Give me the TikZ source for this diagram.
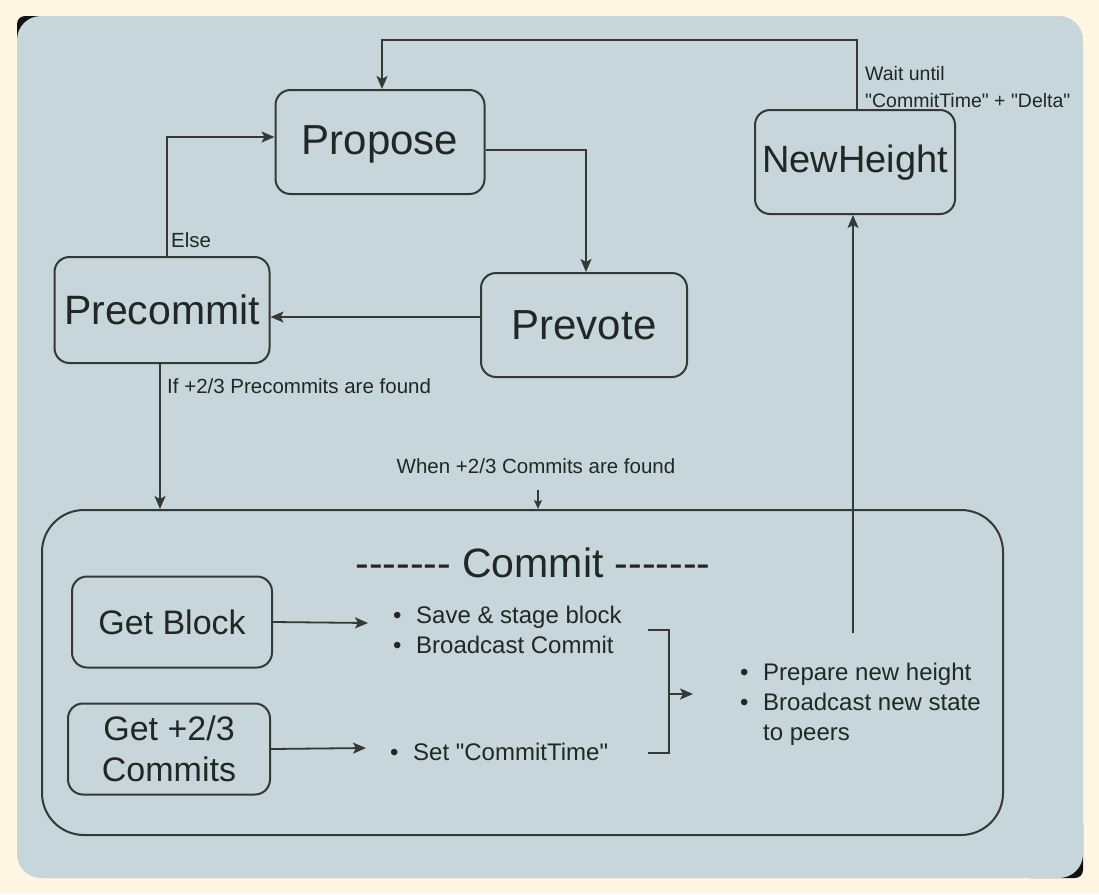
\documentclass[tikz,border=0pt]{standalone}
\usepackage{fontspec}
\newfontfamily\lib{Liberation Sans}
\usetikzlibrary{arrows.meta}
\definecolor{cream}{RGB}{255,246,226}
\definecolor{slide}{RGB}{198,214,218}
\definecolor{ink}{RGB}{52,56,58}
\definecolor{txt}{RGB}{34,38,40}
\definecolor{edgedark}{RGB}{18,18,18}
\newcommand\bul{\makebox[23pt][l]{•}}
\newcommand\hy{\mbox{-}}
\newcommand\fsize[1]{\lib\fontsize{#1}{#1}\selectfont}
\begin{document}
\begin{tikzpicture}[x=1pt,y=-1pt,
  statebox/.style={draw=ink, line width=2pt, rounded corners=15pt, inner sep=0pt, text=txt},
  lbl/.style={text=txt, inner sep=0pt, font=\lib\fontsize{20.5}{27}\selectfont},
  bullets/.style={text=txt, inner sep=0pt, align=left, font=\lib\fontsize{24}{30}\selectfont},
  conn/.style={draw=ink, line width=1.8pt},
  arr/.style={conn, -{Stealth[length=13pt,width=11pt,inset=3pt]}},
  smallarr/.style={conn, -{Stealth[length=9pt,width=8pt,inset=2pt]}}
]
\useasboundingbox (0,0) rectangle (1099,894);
\fill[cream] (0,0) rectangle (1099,894);
\begin{scope}
  \clip (17,16) rectangle (70,70);
  \fill[edgedark, rounded corners=8pt] (17,16) rectangle (1083,878);
\end{scope}
\begin{scope}
  \clip (1030,825) rectangle (1083,878);
  \fill[edgedark, rounded corners=8pt] (17,16) rectangle (1083,878);
\end{scope}
\fill[slide, rounded corners=24pt] (17,16) rectangle (1083,878);

% state nodes
\node[statebox, minimum width=209pt, minimum height=104pt, font=\fsize{42}, text depth=4pt] (propose) at (380,142) {Propose};
\node[statebox, minimum width=200pt, minimum height=104pt, font=\fsize{38}, text depth=6pt] (newh) at (855,162) {NewHeight};
\node[statebox, minimum width=215pt, minimum height=106pt, font=\fsize{41}] (precommit) at (162,310) {Precommit};
\node[statebox, minimum width=206pt, minimum height=104pt, font=\fsize{42}] (prevote) at (584,325) {Prevote};

% commit group
\node[draw=ink, line width=2pt, rounded corners=42pt, minimum width=961pt, minimum height=325pt, inner sep=0pt] (commit) at (522.5,672.5) {};
\node[text=txt, inner sep=0pt, font=\fsize{41}] (ctitle) at (533,563) {\hy\hy\hy\hy\hy\hy\hy{} Commit \hy\hy\hy\hy\hy\hy\hy};
\node[statebox, minimum width=200pt, minimum height=91pt, font=\fsize{34}] (getblock) at (172,622) {Get Block};
\node[statebox, minimum width=202pt, minimum height=91pt, align=center, font=\lib\fontsize{34}{41}\selectfont] (getcommits) at (169,749) {Get +2/3\\Commits};

\node[bullets, anchor=west] (savetext) at (393,630) {\bul Save \& stage block\\\bul Broadcast Commit};
\node[bullets, anchor=west] (settext) at (390,752) {\bul Set "CommitTime"};
\node[bullets, anchor=west] (preptext) at (740,704) {\bul Prepare new height\\\bul Broadcast new state\\\hspace*{23pt}to peers};

% labels
\node[lbl, anchor=west] (elselbl) at (171,240) {Else};
\node[lbl, anchor=west] (iflbl) at (167,386) {If +2/3 Precommits are found};
\node[lbl] (whenlbl) at (536,466) {When +2/3 Commits are found};
\node[lbl, anchor=west, align=left, font=\lib\fontsize{19.5}{27}\selectfont] (waitlbl) at (865,87) {Wait until\\"CommitTime" + "Delta"};

% coordinates
\coordinate (loopR) at (857,40);
\coordinate (loopL) at (382,40);
\coordinate (pp) at (586,150);
\coordinate (pv) at (0,317);
\coordinate (el) at (167,137);
\coordinate (pc) at (160,0);
\coordinate (w1) at (538,490);
\coordinate (gbend) at (368,623);
\coordinate (gcend) at (366,748);
\coordinate (b1) at (648,630);
\coordinate (b2) at (669,630);
\coordinate (b3) at (669,753);
\coordinate (b4) at (648,753);
\coordinate (bm) at (669,694);
\coordinate (bmend) at (693,694);
\coordinate (nh) at (853,633);

% connectors
\draw[arr] (newh.north -| loopR) -- (loopR) -- (loopL) -- (propose.north -| loopL);
\draw[arr] (propose.east |- pp) -| (prevote.north -| pp);
\draw[arr] (prevote.west |- pv) -- (precommit.east |- pv);
\draw[arr] (precommit.north -| el) |- (propose.west |- el);
\draw[arr] (precommit.south -| pc) -- (commit.north -| pc);
\draw[smallarr] (w1) -- (commit.north -| w1);
\draw[arr] (getblock.east) -- (gbend);
\draw[arr] (getcommits.east) -- (gcend);
\draw[conn] (b1) -- (b2) -- (b3) -- (b4);
\draw[arr] (bm) -- (bmend);
\draw[arr] (nh) -- (newh.south -| nh);
\end{tikzpicture}
\end{document}
